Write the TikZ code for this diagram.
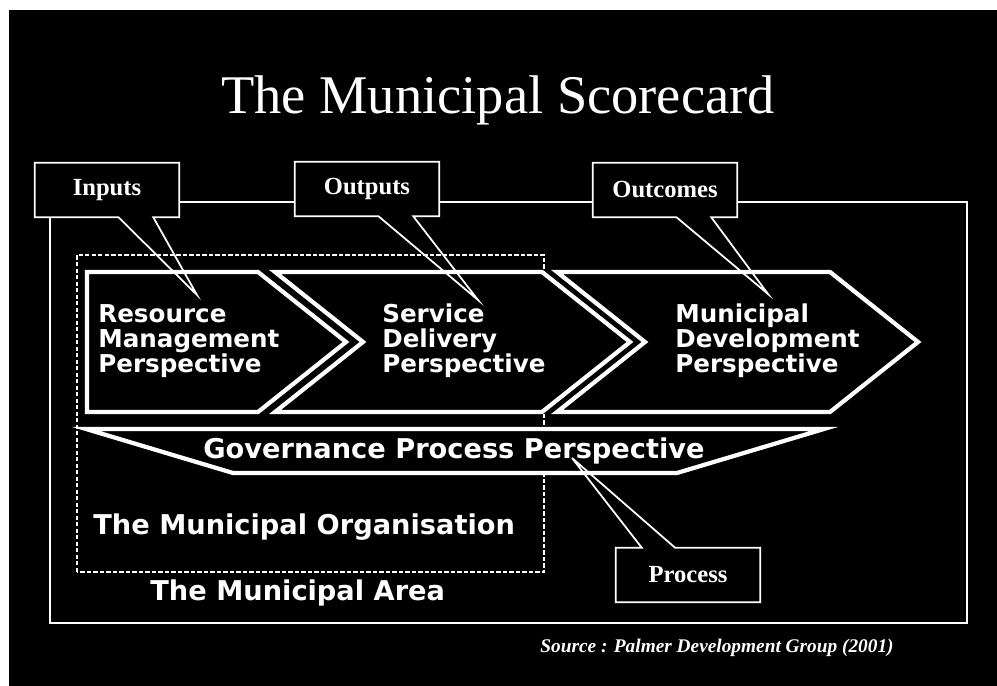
\documentclass[tikz,border=0pt]{standalone}
\usepackage{fontspec}
\setmainfont{Liberation Serif}
\newfontfamily\verdana{DejaVu Sans}
\usepackage{tikz}
\usetikzlibrary{calc}

\tikzset{
  areaframe/.style={draw=white, line width=1pt},
  orgframe/.style={draw=white, line width=0.8pt, dash pattern=on 2.5pt off 1.2pt},
  chevron/.style={draw=white, fill=black, line width=2.4pt, line join=miter},
  persp/.style={text=white, align=left, anchor=west, inner sep=0pt,
    font=\verdana\bfseries\fontsize{14}{14.2}\selectfont},
  bigtext/.style={text=white, inner sep=0pt, font=\verdana\bfseries\fontsize{15.5}{18}\selectfont},
  callbox/.style={fill=black, text=white, minimum width=2.88cm, minimum height=1.08cm,
    inner sep=0pt, font=\bfseries\fontsize{14}{16}\selectfont},
  pointer/.style={draw=white, line width=1pt, line join=miter},
}

\begin{document}
\begin{tikzpicture}[scale=1.0]
    \useasboundingbox (0,0) rectangle (19.94,13.72);
    \fill[white] (0,0) rectangle (19.94,13.72);
    \fill[black] (0.18,0) rectangle (19.94,13.52);

    \node[text=white, font=\fontsize{31}{36}\selectfont] (title) at (9.96,11.72) {The Municipal Scorecard};

    % municipal area and municipal organisation
    \draw[areaframe] (1.0,1.26) rectangle (19.34,9.68);
    \draw[orgframe] (1.54,2.28) rectangle (10.88,8.62);

    % the three perspectives
    \draw[chevron] (1.74,8.28) -- (5.16,8.28) -- (6.92,6.88) -- (5.16,5.48) -- (1.74,5.48) -- cycle;
    \draw[chevron] (5.5,8.28) -- (10.84,8.28) -- (12.6,6.88) -- (10.84,5.48) -- (5.5,5.48) -- (7.26,6.88) -- cycle;
    \draw[chevron] (11.14,8.28) -- (16.6,8.28) -- (18.36,6.88) -- (16.6,5.48) -- (11.14,5.48) -- (12.9,6.88) -- cycle;

    \node[persp] (rm) at (1.96,6.9) {Resource\\Management\\Perspective};
    \node[persp] (sd) at (7.64,6.9) {Service\\Delivery\\Perspective};
    \node[persp] (md) at (13.5,6.9) {Municipal\\Development\\Perspective};

    \draw[chevron] (1.72,5.14) -- (16.48,5.14) -- (13.54,4.26) -- (4.66,4.26) -- cycle;
    \node[bigtext] (gov) at (9.08,4.7) {Governance Process Perspective};

    \node[bigtext, anchor=west] (org) at (1.86,3.18) {The Municipal Organisation};
    \node[bigtext, anchor=west] (area) at (3.0,1.86) {The Municipal Area};

    % callouts
    \node[callbox] (inputs) at (2.14,9.92) {Inputs};
    \node[callbox] (outputs) at (7.34,9.94) {Outputs};
    \node[callbox] (outcomes) at (13.3,9.92) {Outcomes};
    \node[callbox] (process) at (13.76,2.22) {Process};

    \coordinate (inputs-tip) at (3.94,7.82);
    \coordinate (outputs-tip) at (9.56,7.72);
    \coordinate (outcomes-tip) at (15.36,7.84);
    \coordinate (process-tip) at (11.44,4.56);

    \foreach \c in {inputs,outputs,outcomes}
        \draw[pointer] (\c.north west) -- (\c.north east) -- (\c.south east)
            -- ($(\c.south west)!0.82!(\c.south east)$) -- (\c-tip)
            -- ($(\c.south west)!0.58!(\c.south east)$) -- (\c.south west) -- cycle;
    \draw[pointer] (process.south west) -- (process.north west)
        -- ($(process.north west)!0.18!(process.north east)$) -- (process-tip)
        -- ($(process.north west)!0.41!(process.north east)$) -- (process.north east)
        -- (process.south east) -- cycle;

    \node[text=white, font=\bfseries\itshape\fontsize{11}{14}\selectfont] (source) at (14.34,0.76)
        {Source : Palmer Development Group (2001)};
\end{tikzpicture}
\end{document}
